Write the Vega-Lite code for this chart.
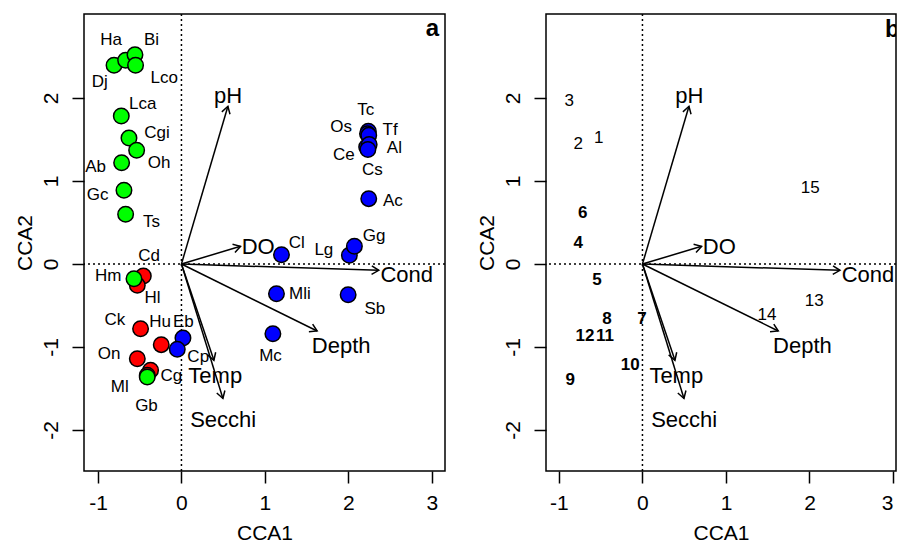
{
  "$schema": "https://vega.github.io/schema/vega-lite/v6.json",
  "background": "white",
  "padding": {"left": 13, "top": 12, "right": 0, "bottom": 0},
  "spacing": 28,
  "config": {
    "font": "Liberation Sans",
    "view": {"stroke": "black", "strokeWidth": 1.5},
    "axis": {
      "grid": false, "domain": false, "ticks": true, "tickColor": "black", "tickWidth": 1.5, "tickSize": 12,
      "labelFont": "Liberation Sans", "labelFontSize": 21, "labelColor": "black", "labelOverlap": false, "labelFlush": false,
      "labelExpr": "replace(datum.label, '\u2212', '-')",
      "titleFont": "Liberation Sans", "titleFontSize": 21, "titleFontWeight": "normal", "titleColor": "black"
    },
    "text": {"font": "Liberation Sans", "color": "black"}
  },
  "datasets": {
    "env": [
      {"var": "pH", "x0": 0, "y0": 0, "x": 0.557, "y": 1.90, "lx": 0.56, "ly": 2.02},
      {"var": "DO", "x0": 0, "y0": 0, "x": 0.708, "y": 0.213, "lx": 0.92, "ly": 0.205},
      {"var": "Cond", "x0": 0, "y0": 0, "x": 2.365, "y": -0.076, "lx": 2.70, "ly": -0.13},
      {"var": "Depth", "x0": 0, "y0": 0, "x": 1.626, "y": -0.807, "lx": 1.915, "ly": -0.99},
      {"var": "Temp", "x0": 0, "y0": 0, "x": 0.389, "y": -1.16, "lx": 0.405, "ly": -1.35},
      {"var": "Secchi", "x0": 0, "y0": 0, "x": 0.497, "y": -1.62, "lx": 0.50, "ly": -1.88}
    ],
    "species": [
      {"sp": "Cd", "group": "red", "x": -0.457, "y": -0.145, "lx": -0.389, "ly": 0.100},
      {"sp": "Hl", "group": "red", "x": -0.529, "y": -0.257, "lx": -0.347, "ly": -0.410},
      {"sp": "Ck", "group": "red", "x": -0.490, "y": -0.780, "lx": -0.799, "ly": -0.678},
      {"sp": "Hu", "group": "red", "x": -0.242, "y": -0.972, "lx": -0.255, "ly": -0.695},
      {"sp": "On", "group": "red", "x": -0.529, "y": -1.141, "lx": -0.868, "ly": -1.090},
      {"sp": "Cg", "group": "red", "x": -0.370, "y": -1.281, "lx": -0.122, "ly": -1.349},
      {"sp": "Ml", "group": "red", "x": -0.410, "y": -1.341, "lx": -0.739, "ly": -1.482},
      {"sp": "Dj", "group": "green", "x": -0.808, "y": 2.394, "lx": -0.978, "ly": 2.195},
      {"sp": "Ha", "group": "green", "x": -0.669, "y": 2.454, "lx": -0.844, "ly": 2.695},
      {"sp": "Bi", "group": "green", "x": -0.557, "y": 2.522, "lx": -0.359, "ly": 2.695},
      {"sp": "Lco", "group": "green", "x": -0.550, "y": 2.394, "lx": -0.206, "ly": 2.241},
      {"sp": "Lca", "group": "green", "x": -0.721, "y": 1.783, "lx": -0.463, "ly": 1.931},
      {"sp": "Cgi", "group": "green", "x": -0.629, "y": 1.518, "lx": -0.293, "ly": 1.578},
      {"sp": "Oh", "group": "green", "x": -0.537, "y": 1.370, "lx": -0.269, "ly": 1.219},
      {"sp": "Ab", "group": "green", "x": -0.717, "y": 1.220, "lx": -1.029, "ly": 1.163},
      {"sp": "Gc", "group": "green", "x": -0.689, "y": 0.888, "lx": -1.005, "ly": 0.837},
      {"sp": "Ts", "group": "green", "x": -0.669, "y": 0.599, "lx": -0.359, "ly": 0.500},
      {"sp": "Hm", "group": "green", "x": -0.569, "y": -0.177, "lx": -0.879, "ly": -0.145},
      {"sp": "Gb", "group": "green", "x": -0.410, "y": -1.361, "lx": -0.419, "ly": -1.711},
      {"sp": "Eb", "group": "blue", "x": 0.018, "y": -0.892, "lx": 0.022, "ly": -0.695},
      {"sp": "Cp", "group": "blue", "x": -0.050, "y": -1.028, "lx": 0.201, "ly": -1.120},
      {"sp": "Cl", "group": "blue", "x": 1.199, "y": 0.112, "lx": 1.383, "ly": 0.251},
      {"sp": "Lg", "group": "blue", "x": 2.013, "y": 0.105, "lx": 1.707, "ly": 0.169},
      {"sp": "Gg", "group": "blue", "x": 2.073, "y": 0.213, "lx": 2.309, "ly": 0.337},
      {"sp": "Ac", "group": "blue", "x": 2.245, "y": 0.787, "lx": 2.534, "ly": 0.761},
      {"sp": "Tc", "group": "blue", "x": 2.24, "y": 1.60, "lx": 2.210, "ly": 1.852},
      {"sp": "Os", "group": "blue", "x": 2.23, "y": 1.57, "lx": 1.914, "ly": 1.651},
      {"sp": "Tf", "group": "blue", "x": 2.245, "y": 1.55, "lx": 2.501, "ly": 1.611},
      {"sp": "Ce", "group": "blue", "x": 2.22, "y": 1.41, "lx": 1.946, "ly": 1.319},
      {"sp": "Al", "group": "blue", "x": 2.25, "y": 1.44, "lx": 2.552, "ly": 1.394},
      {"sp": "Cs", "group": "blue", "x": 2.235, "y": 1.38, "lx": 2.289, "ly": 1.129},
      {"sp": "Mli", "group": "blue", "x": 1.139, "y": -0.358, "lx": 1.419, "ly": -0.358},
      {"sp": "Sb", "group": "blue", "x": 1.998, "y": -0.370, "lx": 2.319, "ly": -0.542},
      {"sp": "Mc", "group": "blue", "x": 1.096, "y": -0.840, "lx": 1.067, "ly": -1.114}
    ],
    "sites": [
      {"site": "1", "group": "A", "x": -0.525, "y": 1.518},
      {"site": "2", "group": "A", "x": -0.769, "y": 1.449},
      {"site": "3", "group": "A", "x": -0.877, "y": 1.960},
      {"site": "4", "group": "B", "x": -0.769, "y": 0.253},
      {"site": "5", "group": "B", "x": -0.545, "y": -0.189},
      {"site": "6", "group": "B", "x": -0.716, "y": 0.618},
      {"site": "7", "group": "B", "x": -0.005, "y": -0.667},
      {"site": "8", "group": "B", "x": -0.425, "y": -0.667},
      {"site": "9", "group": "B", "x": -0.865, "y": -1.402},
      {"site": "10", "group": "B", "x": -0.146, "y": -1.213},
      {"site": "11", "group": "B", "x": -0.449, "y": -0.867},
      {"site": "12", "group": "B", "x": -0.689, "y": -0.867},
      {"site": "13", "group": "A", "x": 2.058, "y": -0.449},
      {"site": "14", "group": "A", "x": 1.491, "y": -0.611},
      {"site": "15", "group": "A", "x": 2.010, "y": 0.916}
    ],
    "zero": [{"zero": 0}],
    "panelA": [{"panel": "a", "px": 3.087, "py": 2.747}],
    "panelB": [{"panel": "b", "px": 2.905, "py": 2.735}]
  },
  "hconcat": [
    {
      "width": 361,
      "height": 457,
      "layer": [
        {
          "data": {"name": "zero"},
          "mark": {"type": "rule", "color": "black", "strokeWidth": 1.5, "strokeDash": [2, 3]},
          "encoding": {
            "x": {"field": "zero", "type": "quantitative", "scale": {"domain": [-1.168, 3.159], "nice": false, "zero": false}, "axis": {"title": "CCA1", "values": [-1, 0, 1, 2, 3], "labelBaseline": "middle", "labelPadding": 20, "titlePadding": 9.5}}
          }
        },
        {
          "data": {"name": "zero"},
          "mark": {"type": "rule", "color": "black", "strokeWidth": 1.5, "strokeDash": [2, 3]},
          "encoding": {
            "y": {"field": "zero", "type": "quantitative", "scale": {"domain": [-2.494, 3.012], "nice": false, "zero": false}, "axis": {"title": "CCA2", "values": [-2, -1, 0, 1, 2], "labelAngle": -90, "labelAlign": "center", "labelBaseline": "middle", "labelPadding": 21, "titlePadding": 5}}
          }
        },
        {
          "data": {"name": "env"},
          "mark": {"type": "rule", "color": "black", "strokeWidth": 1.5},
          "encoding": {
            "x": {"field": "x0", "type": "quantitative", "scale": {"domain": [-1.168, 3.159], "nice": false, "zero": false}, "axis": {"title": "CCA1", "values": [-1, 0, 1, 2, 3], "labelBaseline": "middle", "labelPadding": 20, "titlePadding": 9.5}},
            "y": {"field": "y0", "type": "quantitative", "scale": {"domain": [-2.494, 3.012], "nice": false, "zero": false}, "axis": {"title": "CCA2", "values": [-2, -1, 0, 1, 2], "labelAngle": -90, "labelAlign": "center", "labelBaseline": "middle", "labelPadding": 21, "titlePadding": 5}},
            "x2": {"field": "x"},
            "y2": {"field": "y"}
          }
        },
        {
          "data": {"name": "env"},
          "transform": [{"calculate": "atan2(-datum.y * 83, datum.x * 83.5) * 180 / PI", "as": "ang"}],
          "mark": {"type": "point", "shape": "M-1,-0.6L0,0L-1,0.6", "filled": false, "stroke": "black", "strokeWidth": 1.5, "size": 200, "opacity": 1},
          "encoding": {
            "x": {"field": "x", "type": "quantitative", "scale": {"domain": [-1.168, 3.159], "nice": false, "zero": false}, "axis": {"title": "CCA1", "values": [-1, 0, 1, 2, 3], "labelBaseline": "middle", "labelPadding": 20, "titlePadding": 9.5}},
            "y": {"field": "y", "type": "quantitative", "scale": {"domain": [-2.494, 3.012], "nice": false, "zero": false}, "axis": {"title": "CCA2", "values": [-2, -1, 0, 1, 2], "labelAngle": -90, "labelAlign": "center", "labelBaseline": "middle", "labelPadding": 21, "titlePadding": 5}},
            "angle": {"field": "ang", "type": "quantitative", "scale": null}
          }
        },
        {
          "data": {"name": "env"},
          "mark": {"type": "text", "fontSize": 22, "align": "center", "baseline": "middle"},
          "encoding": {
            "x": {"field": "lx", "type": "quantitative", "scale": {"domain": [-1.168, 3.159], "nice": false, "zero": false}, "axis": {"title": "CCA1", "values": [-1, 0, 1, 2, 3], "labelBaseline": "middle", "labelPadding": 20, "titlePadding": 9.5}},
            "y": {"field": "ly", "type": "quantitative", "scale": {"domain": [-2.494, 3.012], "nice": false, "zero": false}, "axis": {"title": "CCA2", "values": [-2, -1, 0, 1, 2], "labelAngle": -90, "labelAlign": "center", "labelBaseline": "middle", "labelPadding": 21, "titlePadding": 5}},
            "text": {"field": "var"}
          }
        },
        {
          "data": {"name": "species"},
          "mark": {"type": "circle", "size": 240, "stroke": "black", "strokeWidth": 1.5, "opacity": 1},
          "encoding": {
            "x": {"field": "x", "type": "quantitative", "scale": {"domain": [-1.168, 3.159], "nice": false, "zero": false}, "axis": {"title": "CCA1", "values": [-1, 0, 1, 2, 3], "labelBaseline": "middle", "labelPadding": 20, "titlePadding": 9.5}},
            "y": {"field": "y", "type": "quantitative", "scale": {"domain": [-2.494, 3.012], "nice": false, "zero": false}, "axis": {"title": "CCA2", "values": [-2, -1, 0, 1, 2], "labelAngle": -90, "labelAlign": "center", "labelBaseline": "middle", "labelPadding": 21, "titlePadding": 5}},
            "color": {"field": "group", "type": "nominal", "scale": {"domain": ["red", "green", "blue"], "range": ["#FF0000", "#00FF00", "#0000FF"]}, "legend": null}
          }
        },
        {
          "data": {"name": "species"},
          "mark": {"type": "text", "fontSize": 17, "align": "center", "baseline": "middle"},
          "encoding": {
            "x": {"field": "lx", "type": "quantitative", "scale": {"domain": [-1.168, 3.159], "nice": false, "zero": false}, "axis": {"title": "CCA1", "values": [-1, 0, 1, 2, 3], "labelBaseline": "middle", "labelPadding": 20, "titlePadding": 9.5}},
            "y": {"field": "ly", "type": "quantitative", "scale": {"domain": [-2.494, 3.012], "nice": false, "zero": false}, "axis": {"title": "CCA2", "values": [-2, -1, 0, 1, 2], "labelAngle": -90, "labelAlign": "center", "labelBaseline": "middle", "labelPadding": 21, "titlePadding": 5}},
            "text": {"field": "sp"}
          }
        },
        {
          "data": {"name": "panelA"},
          "mark": {"type": "text", "fontSize": 24, "fontWeight": "bold", "align": "right", "baseline": "alphabetic"},
          "encoding": {
            "x": {"field": "px", "type": "quantitative", "scale": {"domain": [-1.168, 3.159], "nice": false, "zero": false}, "axis": {"title": "CCA1", "values": [-1, 0, 1, 2, 3], "labelBaseline": "middle", "labelPadding": 20, "titlePadding": 9.5}},
            "y": {"field": "py", "type": "quantitative", "scale": {"domain": [-2.494, 3.012], "nice": false, "zero": false}, "axis": {"title": "CCA2", "values": [-2, -1, 0, 1, 2], "labelAngle": -90, "labelAlign": "center", "labelBaseline": "middle", "labelPadding": 21, "titlePadding": 5}},
            "text": {"field": "panel"}
          }
        }
      ]
    },
    {
      "width": 350,
      "height": 457,
      "layer": [
        {
          "data": {"name": "zero"},
          "mark": {"type": "rule", "color": "black", "strokeWidth": 1.5, "strokeDash": [2, 3]},
          "encoding": {
            "x": {"field": "zero", "type": "quantitative", "scale": {"domain": [-1.155, 3.036], "nice": false, "zero": false}, "axis": {"title": "CCA1", "values": [-1, 0, 1, 2, 3], "labelBaseline": "middle", "labelPadding": 20, "titlePadding": 9.5, "labelAlign": {"condition": {"test": "datum.value >= 3", "value": "right"}, "value": "center"}}}
          }
        },
        {
          "data": {"name": "zero"},
          "mark": {"type": "rule", "color": "black", "strokeWidth": 1.5, "strokeDash": [2, 3]},
          "encoding": {
            "y": {"field": "zero", "type": "quantitative", "scale": {"domain": [-2.494, 3.012], "nice": false, "zero": false}, "axis": {"title": "CCA2", "values": [-2, -1, 0, 1, 2], "labelAngle": -90, "labelAlign": "center", "labelBaseline": "middle", "labelPadding": 21, "titlePadding": 5}}
          }
        },
        {
          "data": {"name": "env"},
          "mark": {"type": "rule", "color": "black", "strokeWidth": 1.5},
          "encoding": {
            "x": {"field": "x0", "type": "quantitative", "scale": {"domain": [-1.155, 3.036], "nice": false, "zero": false}, "axis": {"title": "CCA1", "values": [-1, 0, 1, 2, 3], "labelBaseline": "middle", "labelPadding": 20, "titlePadding": 9.5, "labelAlign": {"condition": {"test": "datum.value >= 3", "value": "right"}, "value": "center"}}},
            "y": {"field": "y0", "type": "quantitative", "scale": {"domain": [-2.494, 3.012], "nice": false, "zero": false}, "axis": {"title": "CCA2", "values": [-2, -1, 0, 1, 2], "labelAngle": -90, "labelAlign": "center", "labelBaseline": "middle", "labelPadding": 21, "titlePadding": 5}},
            "x2": {"field": "x"},
            "y2": {"field": "y"}
          }
        },
        {
          "data": {"name": "env"},
          "transform": [{"calculate": "atan2(-datum.y * 83, datum.x * 83.5) * 180 / PI", "as": "ang"}],
          "mark": {"type": "point", "shape": "M-1,-0.6L0,0L-1,0.6", "filled": false, "stroke": "black", "strokeWidth": 1.5, "size": 200, "opacity": 1},
          "encoding": {
            "x": {"field": "x", "type": "quantitative", "scale": {"domain": [-1.155, 3.036], "nice": false, "zero": false}, "axis": {"title": "CCA1", "values": [-1, 0, 1, 2, 3], "labelBaseline": "middle", "labelPadding": 20, "titlePadding": 9.5, "labelAlign": {"condition": {"test": "datum.value >= 3", "value": "right"}, "value": "center"}}},
            "y": {"field": "y", "type": "quantitative", "scale": {"domain": [-2.494, 3.012], "nice": false, "zero": false}, "axis": {"title": "CCA2", "values": [-2, -1, 0, 1, 2], "labelAngle": -90, "labelAlign": "center", "labelBaseline": "middle", "labelPadding": 21, "titlePadding": 5}},
            "angle": {"field": "ang", "type": "quantitative", "scale": null}
          }
        },
        {
          "data": {"name": "env"},
          "mark": {"type": "text", "fontSize": 22, "align": "center", "baseline": "middle"},
          "encoding": {
            "x": {"field": "lx", "type": "quantitative", "scale": {"domain": [-1.155, 3.036], "nice": false, "zero": false}, "axis": {"title": "CCA1", "values": [-1, 0, 1, 2, 3], "labelBaseline": "middle", "labelPadding": 20, "titlePadding": 9.5, "labelAlign": {"condition": {"test": "datum.value >= 3", "value": "right"}, "value": "center"}}},
            "y": {"field": "ly", "type": "quantitative", "scale": {"domain": [-2.494, 3.012], "nice": false, "zero": false}, "axis": {"title": "CCA2", "values": [-2, -1, 0, 1, 2], "labelAngle": -90, "labelAlign": "center", "labelBaseline": "middle", "labelPadding": 21, "titlePadding": 5}},
            "text": {"field": "var"}
          }
        },
        {
          "data": {"name": "sites"},
          "transform": [{"filter": "datum.group === 'A'"}],
          "mark": {"type": "text", "fontSize": 17, "align": "center", "baseline": "middle"},
          "encoding": {
            "x": {"field": "x", "type": "quantitative", "scale": {"domain": [-1.155, 3.036], "nice": false, "zero": false}, "axis": {"title": "CCA1", "values": [-1, 0, 1, 2, 3], "labelBaseline": "middle", "labelPadding": 20, "titlePadding": 9.5, "labelAlign": {"condition": {"test": "datum.value >= 3", "value": "right"}, "value": "center"}}},
            "y": {"field": "y", "type": "quantitative", "scale": {"domain": [-2.494, 3.012], "nice": false, "zero": false}, "axis": {"title": "CCA2", "values": [-2, -1, 0, 1, 2], "labelAngle": -90, "labelAlign": "center", "labelBaseline": "middle", "labelPadding": 21, "titlePadding": 5}},
            "text": {"field": "site"}
          }
        },
        {
          "data": {"name": "sites"},
          "transform": [{"filter": "datum.group === 'B'"}],
          "mark": {"type": "text", "fontSize": 17, "fontWeight": "bold", "align": "center", "baseline": "middle"},
          "encoding": {
            "x": {"field": "x", "type": "quantitative", "scale": {"domain": [-1.155, 3.036], "nice": false, "zero": false}, "axis": {"title": "CCA1", "values": [-1, 0, 1, 2, 3], "labelBaseline": "middle", "labelPadding": 20, "titlePadding": 9.5, "labelAlign": {"condition": {"test": "datum.value >= 3", "value": "right"}, "value": "center"}}},
            "y": {"field": "y", "type": "quantitative", "scale": {"domain": [-2.494, 3.012], "nice": false, "zero": false}, "axis": {"title": "CCA2", "values": [-2, -1, 0, 1, 2], "labelAngle": -90, "labelAlign": "center", "labelBaseline": "middle", "labelPadding": 21, "titlePadding": 5}},
            "text": {"field": "site"}
          }
        },
        {
          "data": {"name": "panelB"},
          "mark": {"type": "text", "fontSize": 24, "fontWeight": "bold", "align": "left", "baseline": "alphabetic", "clip": true},
          "encoding": {
            "x": {"field": "px", "type": "quantitative", "scale": {"domain": [-1.155, 3.036], "nice": false, "zero": false}, "axis": {"title": "CCA1", "values": [-1, 0, 1, 2, 3], "labelBaseline": "middle", "labelPadding": 20, "titlePadding": 9.5, "labelAlign": {"condition": {"test": "datum.value >= 3", "value": "right"}, "value": "center"}}},
            "y": {"field": "py", "type": "quantitative", "scale": {"domain": [-2.494, 3.012], "nice": false, "zero": false}, "axis": {"title": "CCA2", "values": [-2, -1, 0, 1, 2], "labelAngle": -90, "labelAlign": "center", "labelBaseline": "middle", "labelPadding": 21, "titlePadding": 5}},
            "text": {"field": "panel"}
          }
        }
      ]
    }
  ]
}
